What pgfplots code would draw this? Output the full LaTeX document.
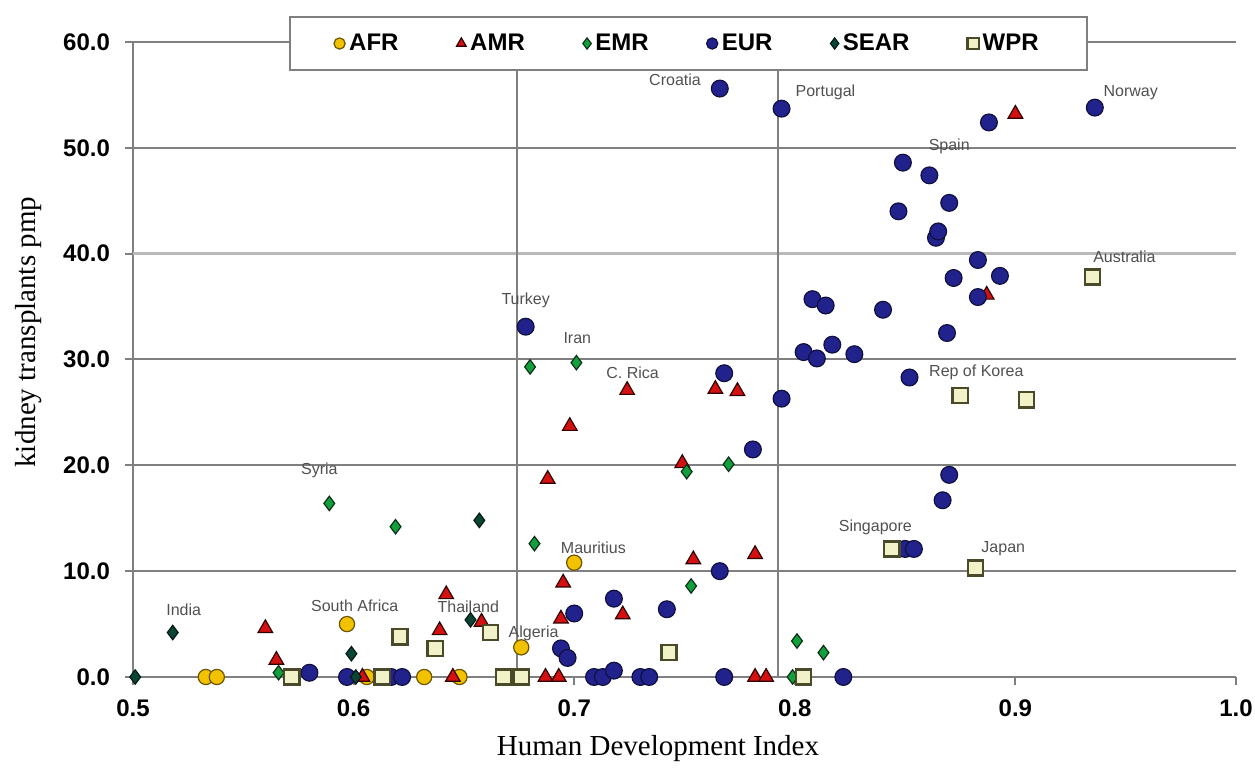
\documentclass[border=0pt]{standalone}
\usepackage{fontspec}
\setmainfont{Liberation Sans}
\newfontfamily\timesfont{Liberation Serif}
\usepackage{pgfplots}
\pgfplotsset{compat=1.18}
\definecolor{gridgray}{HTML}{808080}
\definecolor{labgray}{HTML}{505050}
\definecolor{afrfill}{HTML}{F2C200}
\definecolor{afrdraw}{HTML}{6B5500}
\definecolor{amrfill}{HTML}{D41010}
\definecolor{amrdraw}{HTML}{300000}
\definecolor{emrfill}{HTML}{12A03C}
\definecolor{emrdraw}{HTML}{0A3018}
\definecolor{eurfill}{HTML}{22228C}
\definecolor{eurdraw}{HTML}{101040}
\definecolor{searfill}{HTML}{0B4535}
\definecolor{seardraw}{HTML}{051A14}
\definecolor{wprfill}{HTML}{F2F2C8}
\definecolor{wprdraw}{HTML}{4A4A2A}
\begin{document}
\begin{tikzpicture}
\useasboundingbox (-66.5pt,-46pt) rectangle (561pt,338.5pt);
\begin{axis}[
  scale only axis, width=551.5pt, height=317.5pt,
  xmin=0.5, xmax=1.0, ymin=0, ymax=60,
  clip=false,
  axis x line*=bottom, axis y line*=left,
  axis line style={draw=gridgray, line width=1pt},
  xtick={0.5,0.6,0.7,0.8,0.9,1.0},
  ytick={0,10,20,30,40,50,60},
  ymajorgrids, grid style={gridgray, line width=1pt},
  tick align=outside, major tick length=4pt, tick style={gridgray, line width=1pt},
  ticklabel style={font=\bfseries\fontsize{12}{14}\selectfont},
  /pgf/number format/assume math mode=true,
  x tick label style={yshift=-4pt, /pgf/number format/.cd, fixed, fixed zerofill, precision=1, /tikz/.cd},
  y tick label style={xshift=-4pt, /pgf/number format/.cd, fixed, fixed zerofill, precision=1, /tikz/.cd},
  xlabel={Human Development Index}, ylabel={kidney transplants pmp},
  label style={font=\timesfont\fontsize{14.5}{17}\selectfont},
  xlabel style={at={(axis description cs:0.476,-0.112)}, anchor=center},
  ylabel style={at={(axis description cs:-0.0945,0.543)}, anchor=center},
  legend columns=6,
  legend cell align=left,
  legend style={at={(axis description cs:0.5035,0.9976)}, anchor=center,
    draw=gridgray, line width=1pt, fill=white, inner xsep=22pt, inner ysep=6.5pt,
    font=\bfseries\fontsize{12}{14}\selectfont,
    /tikz/every even column/.append style={column sep=27pt}},
  legend image code/.code={\draw[mark size=2.8pt, line width=0.5pt] plot coordinates {(0,0)};},
]
% reference lines
\addplot[gridgray!55, line width=1.6pt, forget plot] coordinates {(0.5,40) (1.0,40)};
\addplot[gridgray, line width=1pt, forget plot] coordinates {(0.674,0) (0.674,60)};
\addplot[gridgray, line width=1pt, forget plot] coordinates {(0.7924,0) (0.7924,60)};

% AFR
\addplot[only marks, mark=*, mark size=3.8pt, mark options={fill=afrfill, draw=afrdraw, line width=0.6pt}]
coordinates {(0.533,0) (0.538,0) (0.597,5.0) (0.606,0) (0.632,0) (0.648,0) (0.676,2.8) (0.700,10.8)};
\addlegendentry{AFR}
% AMR
\addplot[only marks, mark=triangle*, mark size=4.2pt, mark options={fill=amrfill, draw=amrdraw, line width=0.6pt}]
coordinates {(0.560,4.6) (0.565,1.6) (0.604,0) (0.645,0) (0.639,4.4) (0.642,7.8) (0.658,5.2)
(0.687,0) (0.693,0) (0.688,18.7) (0.694,5.5) (0.695,8.9) (0.698,23.7) (0.722,5.9) (0.724,27.1)
(0.749,20.2) (0.754,11.1) (0.764,27.2) (0.774,27.0) (0.782,11.6) (0.782,0) (0.787,0)
(0.887,36.1) (0.900,53.2)};
\addlegendentry{AMR}
% EMR
\addplot[only marks, mark=diamond*, mark size=3.6pt, mark options={fill=emrfill, draw=emrdraw, line width=0.6pt}]
coordinates {(0.566,0.4) (0.589,16.4) (0.619,14.2) (0.680,29.3) (0.682,12.6) (0.701,29.7)
(0.751,19.4) (0.753,8.6) (0.770,20.1) (0.799,0) (0.801,3.4) (0.813,2.3)};
\addlegendentry{EMR}
% EUR
\addplot[only marks, mark=*, mark size=4.2pt, mark options={fill=eurfill, draw=eurdraw, line width=0.6pt}]
coordinates {(0.580,0.4) (0.597,0) (0.617,0) (0.622,0) (0.678,33.1) (0.694,2.7) (0.697,1.8)
(0.700,6.0) (0.709,0) (0.713,0) (0.718,0.6) (0.718,7.4) (0.730,0) (0.734,0) (0.742,6.4)
(0.766,10.0) (0.766,55.6) (0.768,28.7) (0.768,0) (0.781,21.5) (0.794,53.7) (0.794,26.3)
(0.804,30.7) (0.808,35.7) (0.810,30.1) (0.814,35.1) (0.817,31.4) (0.822,0) (0.827,30.5)
(0.840,34.7) (0.847,44.0) (0.849,48.6) (0.850,12.1) (0.852,28.3) (0.854,12.1) (0.861,47.4)
(0.864,41.5) (0.865,42.1) (0.867,16.7) (0.869,32.5) (0.870,44.8) (0.870,19.1) (0.872,37.7)
(0.883,39.4) (0.883,35.9) (0.888,52.4) (0.893,37.9) (0.936,53.8)};
\addlegendentry{EUR}
% SEAR
\addplot[only marks, mark=diamond*, mark size=3.6pt, mark options={fill=searfill, draw=seardraw, line width=0.6pt}]
coordinates {(0.501,0) (0.518,4.2) (0.599,2.2) (0.601,0) (0.653,5.4) (0.657,14.8)};
\addlegendentry{SEAR}
% WPR
\addplot[only marks, mark=square*, mark size=3.8pt, mark options={fill=wprfill, draw=wprdraw, line width=1.2pt}]
coordinates {(0.572,0) (0.613,0) (0.621,3.8) (0.637,2.7) (0.662,4.2) (0.668,0) (0.676,0)
(0.743,2.3) (0.804,0) (0.844,12.1) (0.875,26.6) (0.882,10.3) (0.905,26.2) (0.935,37.8)};
\addlegendentry{WPR}

% country labels
\begin{scope}[every node/.style={font=\fontsize{8}{9.5}\selectfont, text=labgray, inner sep=0pt}]
\node at (axis cs:0.523,6.33) {India};
\node at (axis cs:0.5845,19.5) {Syria};
\node at (axis cs:0.6005,6.7) {South Africa};
\node at (axis cs:0.652,6.6) {Thailand};
\node at (axis cs:0.6816,4.1) {Algeria};
\node at (axis cs:0.7087,12.2) {Mauritius};
\node at (axis cs:0.678,35.6) {Turkey};
\node at (axis cs:0.7014,32.0) {Iran};
\node at (axis cs:0.7265,28.7) {C. Rica};
\node at (axis cs:0.7457,56.4) {Croatia};
\node at (axis cs:0.8139,55.2) {Portugal};
\node at (axis cs:0.9523,55.2) {Norway};
\node at (axis cs:0.870,50.1) {Spain};
\node at (axis cs:0.9494,39.7) {Australia};
\node at (axis cs:0.8823,28.8) {Rep of Korea};
\node at (axis cs:0.8365,14.1) {Singapore};
\node at (axis cs:0.8945,12.1) {Japan};
\end{scope}
\end{axis}
\end{tikzpicture}
\end{document}
